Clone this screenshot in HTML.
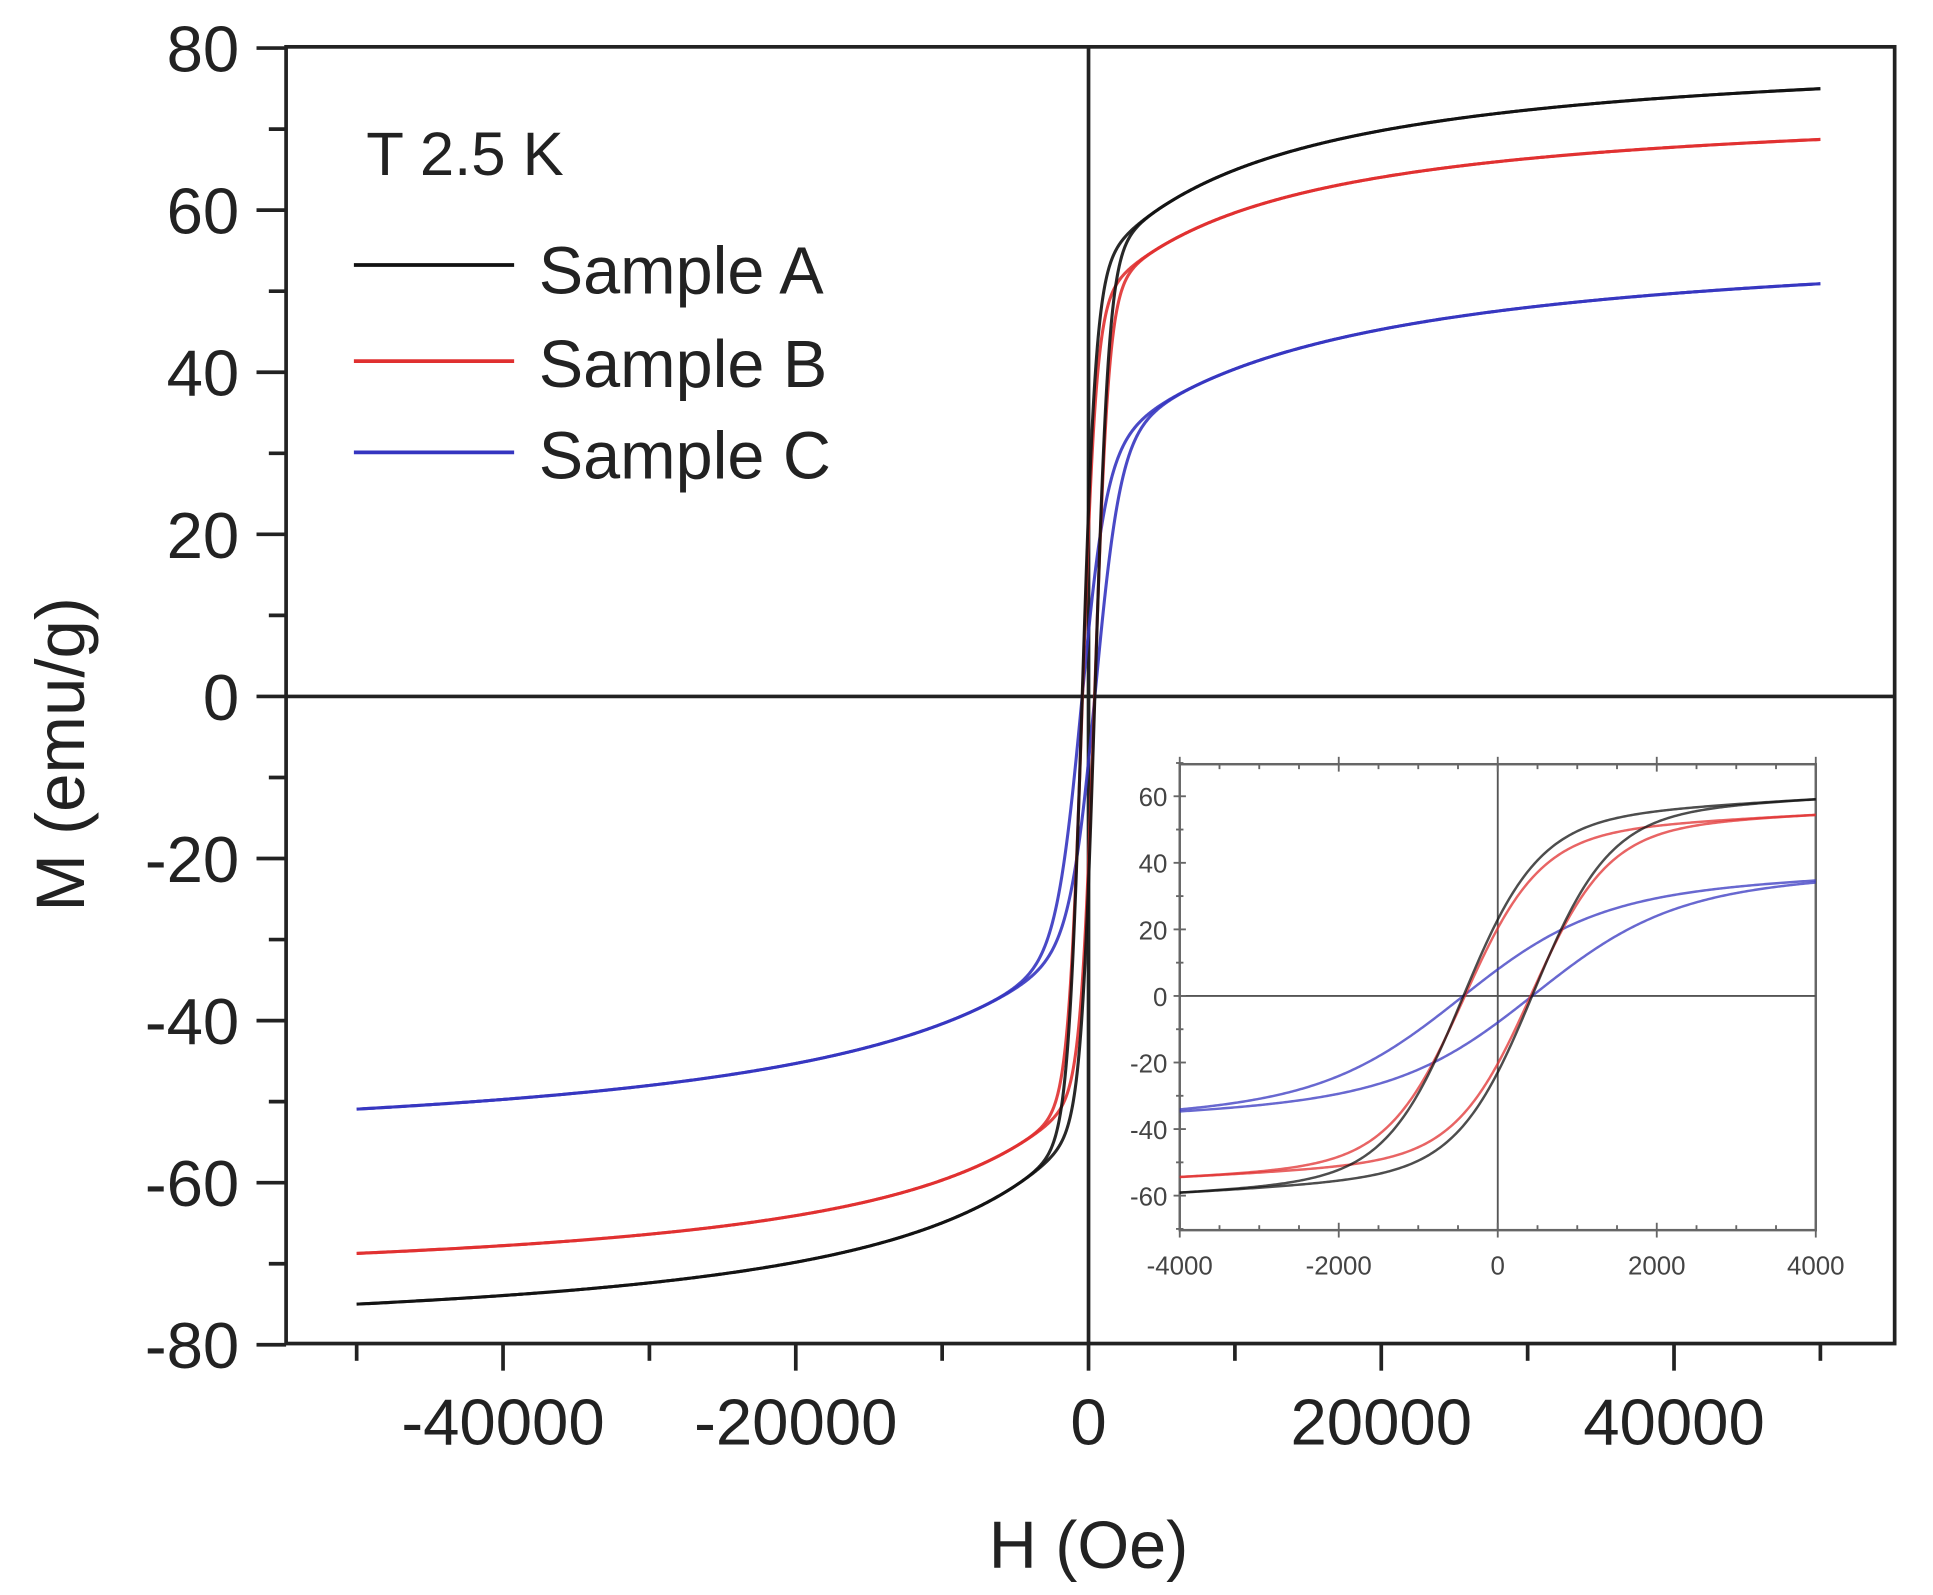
<!DOCTYPE html>
<html><head><meta charset="utf-8"><style>
html,body{margin:0;padding:0;background:#fff;}
svg{display:block;font-family:"Liberation Sans",Arial,sans-serif;}
</style></head><body>
<svg id="s" width="1933" height="1595" viewBox="0 0 1568 1294" xmlns="http://www.w3.org/2000/svg">
<defs><clipPath id="ic"><rect x="957" y="620" width="516" height="378"/></clipPath></defs>
<rect x="0" y="0" width="1568" height="1294" fill="#fff"/>
<g id="main"></g>
<g id="inset"></g>
<g font-size="48" fill="#222">
<text x="297" y="142" font-size="50">T 2.5 K</text>
<line x1="287" y1="215" x2="417" y2="215" stroke="#111" stroke-width="3"/>
<line x1="287" y1="293" x2="417" y2="293" stroke="#e03030" stroke-width="3"/>
<line x1="287" y1="367" x2="417" y2="367" stroke="#3535c0" stroke-width="3"/>
<text x="437" y="238" font-size="54">Sample A</text>
<text x="437" y="314" font-size="54">Sample B</text>
<text x="437" y="388" font-size="54">Sample C</text>
<text x="883" y="1272" text-anchor="middle" font-size="54">H (Oe)</text>
<text transform="translate(68,612) rotate(-90)" text-anchor="middle" font-size="56">M (emu/g)</text>
</g>
<script>
(function(){
var NS="http://www.w3.org/2000/svg";
function el(p,n,a,t){var e=document.createElementNS(NS,n);for(var k in a)e.setAttribute(k,a[k]);if(t!=null)e.textContent=t;p.appendChild(e);return e;}
var main=document.getElementById('main'),ins=document.getElementById('inset');
var L=232,R=1537,T=38,B=1090;
function mx(h){return 883+h*237.5/20000;} function my(m){return 565-m*(1052/160);}
el(main,'rect',{x:L,y:T,width:R-L,height:B-T,fill:'none',stroke:'#222','stroke-width':3});
el(main,'line',{x1:mx(0),y1:T,x2:mx(0),y2:B,stroke:'#222','stroke-width':3});
el(main,'line',{x1:L,y1:my(0),x2:R,y2:my(0),stroke:'#222','stroke-width':3});
for(var m=-80;m<=80;m+=10){var y=my(m);el(main,'line',{x1:m%20==0?208:218,y1:y,x2:L,y2:y,stroke:'#222','stroke-width':3});
 if(m%20==0)el(main,'text',{x:194,y:y+19,'text-anchor':'end','font-size':53,fill:'#222'},String(m));}
for(var h=-50000;h<=50000;h+=10000){var x=mx(h);el(main,'line',{x1:x,y1:B,x2:x,y2:h%20000==0?1112:1104,stroke:'#222','stroke-width':3});
 if(h%20000==0&&h>=-40000&&h<=40000)el(main,'text',{x:x,y:1172,'text-anchor':'middle','font-size':53,fill:'#222'},String(h));}
var S=[{c:'#111',a:52,h1:950,b:28.5,h2:12000,hc:450},{c:'#e03030',a:48,h1:950,b:25.7,h2:12000,hc:430},{c:'#3535c0',a:29,h1:1700,b:28.5,h2:15000,hc:480}];
function M(s,h,br){var hh=h+br*s.hc;return s.a*Math.tanh(hh/s.h1)+s.b*h/(Math.abs(h)+s.h2);}
function dens(s,br,fx,fy,hi){var pts=[];var n=1200;for(var i=0;i<=n;i++){var u=-1+2*i/n;var h=Math.sign(u)*Math.pow(Math.abs(u),2)*hi;pts.push(fx(h).toFixed(2)+','+fy(M(s,h,br)).toFixed(2));}return 'M'+pts.join('L');}
[2,1,0].forEach(function(k){var s=S[k];[1,-1].forEach(function(br){el(main,'path',{d:dens(s,br,mx,my,50000),fill:'none',stroke:s.c,'stroke-width':2.5,'stroke-opacity':0.9});});});
var IL=957,IR=1473,IT=620,IB=998;
function ix(h){return 1215+h*258/4000;} function iy(m){return 808-m*(IB-IT)/140;}
el(ins,'rect',{x:IL,y:IT,width:IR-IL,height:IB-IT,fill:'#fff',stroke:'#666','stroke-width':2});
el(ins,'line',{x1:ix(0),y1:IT,x2:ix(0),y2:IB,stroke:'#555','stroke-width':1.5});
el(ins,'line',{x1:IL,y1:iy(0),x2:IR,y2:iy(0),stroke:'#555','stroke-width':1.5});
for(var m=-70;m<=70;m+=10){var y=iy(m);el(ins,'line',{x1:m%20==0?IL-5:IL-3,y1:y,x2:IL+(m%20==0?5:3),y2:y,stroke:'#666','stroke-width':1.5});
 if(m%20==0&&Math.abs(m)<=60)el(ins,'text',{x:IL-10,y:y+8,'text-anchor':'end','font-size':21,fill:'#444'},String(m));}
for(var h=-4000;h<=4000;h+=500){var x=ix(h),mj=h%2000==0;el(ins,'line',{x1:x,y1:IB+(mj?6:0),x2:x,y2:IB-(mj?6:4),stroke:'#666','stroke-width':1.5});
 el(ins,'line',{x1:x,y1:IT-(mj?6:0),x2:x,y2:IT+(mj?6:4),stroke:'#666','stroke-width':1.5});
 if(mj)el(ins,'text',{x:x,y:1034,'text-anchor':'middle','font-size':21,fill:'#444'},String(h));}
var g=el(ins,'g',{'clip-path':'url(#ic)'});
[2,1,0].forEach(function(k){var s=S[k];[1,-1].forEach(function(br){var pts=[];for(var i=0;i<=400;i++){var h=-4200+8400*i/400;pts.push(ix(h).toFixed(2)+','+iy(M(s,h,br)).toFixed(2));}
 el(g,'path',{d:'M'+pts.join('L'),fill:'none',stroke:s.c,'stroke-width':2,'stroke-opacity':0.75});});});
})();
</script>
</svg>
</body></html>
